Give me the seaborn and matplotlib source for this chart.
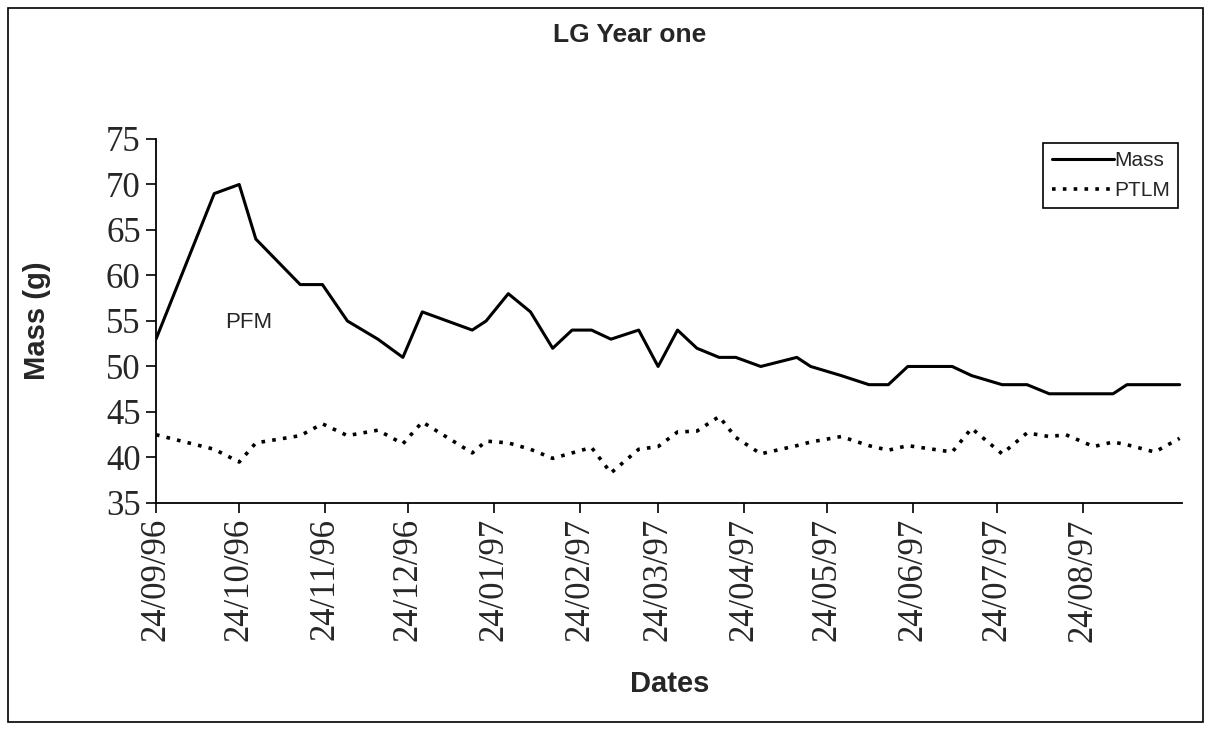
import pandas as pd
import seaborn as sns
import matplotlib.pyplot as plt
from matplotlib.patches import Rectangle

dates = ['24/09/96', '15/10/96', '24/10/96', '30/10/96', '15/11/96', '23/11/96',
         '02/12/96', '13/12/96', '22/12/96', '29/12/96', '16/01/97', '21/01/97',
         '29/01/97', '06/02/97', '14/02/97', '21/02/97', '28/02/97', '07/03/97',
         '17/03/97', '24/03/97', '31/03/97', '07/04/97', '15/04/97', '21/04/97',
         '30/04/97', '13/05/97', '18/05/97', '29/05/97', '08/06/97', '15/06/97',
         '22/06/97', '08/07/97', '15/07/97', '26/07/97', '04/08/97', '12/08/97',
         '18/08/97', '28/08/97', '04/09/97', '09/09/97', '19/09/97', '28/09/97']
mass = [53, 69, 70, 64, 59, 59, 55, 53, 51, 56, 54, 55,
        58, 56, 52, 54, 54, 53, 54, 50, 54, 52, 51, 51,
        50, 51, 50, 49, 48, 48, 50, 50, 49, 48, 48, 47,
        47, 47, 47, 48, 48, 48]
ptlm = [42.5, 40.9, 39.5, 41.6, 42.4, 43.7, 42.4, 43.0, 41.5, 43.9, 40.5, 41.8,
        41.6, 40.9, 39.9, 40.5, 41.1, 38.3, 40.9, 41.2, 42.8, 42.9, 44.5, 42.2,
        40.4, 41.3, 41.7, 42.3, 41.3, 40.8, 41.3, 40.6, 43.2, 40.4, 42.7, 42.3,
        42.5, 41.2, 41.7, 41.4, 40.6, 42.1]
tick_dates = ['24/09/96', '24/10/96', '24/11/96', '24/12/96', '24/01/97', '24/02/97',
              '24/03/97', '24/04/97', '24/05/97', '24/06/97', '24/07/97', '24/08/97']

df = pd.DataFrame({'Date': pd.to_datetime(dates, format='%d/%m/%y'),
                   'Mass': mass, 'PTLM': ptlm})
ticks = pd.to_datetime(tick_dates, format='%d/%m/%y')

sns.set_style('ticks')
plt.rcParams['font.family'] = ['Liberation Sans', 'DejaVu Sans']

fig = plt.figure(figsize=(12.11, 7.30), dpi=100)
ax = fig.add_axes([0.1288, 0.311, 0.8476, 0.4986])

sns.lineplot(data=df, x='Date', y='Mass', color='black', lw=2.2, ax=ax, label='Mass')
sns.lineplot(data=df, x='Date', y='PTLM', color='black', lw=2.6,
             linestyle=(0, (1, 2.0)), ax=ax, label='PTLM')

ax.set_xlim(pd.Timestamp('1996-09-24'), pd.Timestamp('1997-09-29'))
ax.set_ylim(35, 75)
ax.set_xticks(ticks, labels=tick_dates, rotation=90,
              fontfamily='Liberation Serif', fontsize=25)
ax.set_yticks(range(35, 80, 5), labels=[str(v) for v in range(35, 80, 5)],
              fontfamily='Liberation Serif', fontsize=25)
ax.tick_params(axis='both', length=7, width=1.2, color='black', pad=4)

sns.despine(ax=ax)
for s in ['left', 'bottom']:
    ax.spines[s].set_color('black')
    ax.spines[s].set_linewidth(1.3)

ax.set_xlabel('Dates', fontsize=21, fontweight='bold')
ax.set_ylabel('Mass (g)', fontsize=21, fontweight='bold')
ax.xaxis.set_label_coords(0.5, -0.46)
ax.yaxis.set_label_coords(-0.102, 0.5)

ax.text(0.09, 0.497, 'PFM', transform=ax.transAxes, ha='center', va='center', fontsize=16)

leg = ax.legend(loc='upper right', fontsize=15, frameon=True, fancybox=False,
                handlelength=3.0, handletextpad=0.0, borderaxespad=0.2,
                edgecolor='black', framealpha=1)
leg.get_frame().set_linewidth(1.2)

fig.text(0.52, 0.952, 'LG Year one', ha='center', va='center',
         fontsize=19, fontweight='bold')

fig.patches.append(Rectangle((8 / 1211, 8 / 730), 1195 / 1211, 714 / 730,
                             transform=fig.transFigure, fill=False,
                             edgecolor='black', linewidth=1.2))

fig.savefig('out.png', dpi=100)
